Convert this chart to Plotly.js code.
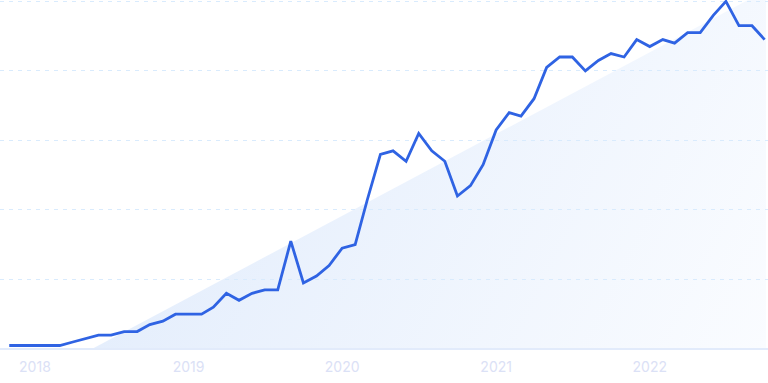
<!DOCTYPE html>
<html>
<head>
<meta charset="utf-8">
<script src="https://cdn.plot.ly/plotly-3.0.1.min.js"></script>
<style>
  html, body { margin: 0; padding: 0; background: #ffffff; }
  #chart { width: 768px; height: 383px; }
</style>
</head>
<body>
<div id="chart"></div>
<script>
// Monthly points
const months = [
  '2017-11-01','2017-12-01',
  '2018-01-01','2018-02-01','2018-03-01','2018-04-01','2018-05-01','2018-06-01',
  '2018-07-01','2018-08-01','2018-09-01','2018-10-01','2018-11-01','2018-12-01',
  '2019-01-01','2019-02-01','2019-03-01','2019-04-01','2019-05-01','2019-06-01',
  '2019-07-01','2019-08-01','2019-09-01','2019-10-01','2019-11-01','2019-12-01',
  '2020-01-01','2020-02-01','2020-03-01','2020-04-01','2020-05-01','2020-06-01',
  '2020-07-01','2020-08-01','2020-09-01','2020-10-01','2020-11-01','2020-12-01',
  '2021-01-01','2021-02-01','2021-03-01','2021-04-01','2021-05-01','2021-06-01',
  '2021-07-01','2021-08-01','2021-09-01','2021-10-01','2021-11-01','2021-12-01',
  '2022-01-01','2022-02-01','2022-03-01','2022-04-01','2022-05-01','2022-06-01',
  '2022-07-01','2022-08-01','2022-09-01','2022-10-01'
];
const interest = [
  1, 1,
  1, 1, 1, 2, 3, 4, 4, 5, 5, 7, 8, 10,
  10, 10, 12, 16, 14, 16, 17, 17, 31, 19, 21, 24,
  29, 30, 43, 56, 57, 54, 62, 57, 54, 44, 47, 53,
  63, 68, 67, 72, 81, 84, 84, 80, 83, 85, 84, 89,
  87, 89, 88, 91, 91, 96, 100, 93, 93, 89
];
const yearTicks = ['2018-01-01','2019-01-01','2020-01-01','2021-01-01','2022-01-01'];
const yearLabels = ['2018','2019','2020','2021','2022'];
const yTicks = [0, 20, 40, 60, 80, 100];

// Decorative gradient triangle behind the line (plot-area background)
const svg =
  '<svg xmlns="http://www.w3.org/2000/svg" width="768" height="350" viewBox="0 0 768 350" preserveAspectRatio="none">' +
  '<defs><linearGradient id="g" gradientUnits="userSpaceOnUse" x1="180" y1="60" x2="766" y2="350">' +
  '<stop offset="0" stop-color="#e3edfc"/><stop offset="1" stop-color="#fafcff"/></linearGradient></defs>' +
  '<polygon points="90,350 748,0 766,0 766,350" fill="url(#g)"/></svg>';
const svgSrc = 'data:image/svg+xml;charset=utf-8,' + encodeURIComponent(svg);

const trace = {
  type: 'scatter',
  mode: 'lines',
  x: months,
  y: interest,
  line: { color: '#2f63e3', width: 2.8, shape: 'linear' },
  hoverinfo: 'x+y'
};

const layout = {
  width: 768,
  height: 383,
  margin: { l: 0, r: 0, t: 0, b: 33, pad: 0 },
  paper_bgcolor: '#ffffff',
  plot_bgcolor: 'rgba(0,0,0,0)',
  showlegend: false,
  xaxis: {
    type: 'date',
    range: ['2017-10-10', '2022-10-09'],
    tickmode: 'array',
    tickvals: yearTicks,
    ticktext: yearLabels,
    showgrid: false,
    zeroline: false,
    showline: false,
    ticks: '',
    ticklabelstandoff: 7,
    tickfont: { family: 'Inter, "Open Sans", sans-serif', size: 14, color: '#dbe1f6' },
    fixedrange: true
  },
  yaxis: {
    range: [-0.3, 100.4],
    tickmode: 'array',
    tickvals: yTicks,
    showticklabels: false,
    showgrid: true,
    gridcolor: '#d9ebfd',
    gridwidth: 1,
    griddash: '4px,5px',
    zeroline: true,
    zerolinecolor: '#e2ebfb',
    zerolinewidth: 2,
    showline: false,
    ticks: '',
    fixedrange: true
  },
  images: [{
    source: svgSrc,
    xref: 'paper', yref: 'paper',
    x: 0, y: 1, sizex: 1, sizey: 1,
    xanchor: 'left', yanchor: 'top',
    sizing: 'stretch',
    layer: 'below'
  }]
};

Plotly.newPlot('chart', [trace], layout, { displayModeBar: false, staticPlot: true });
</script>
</body>
</html>
